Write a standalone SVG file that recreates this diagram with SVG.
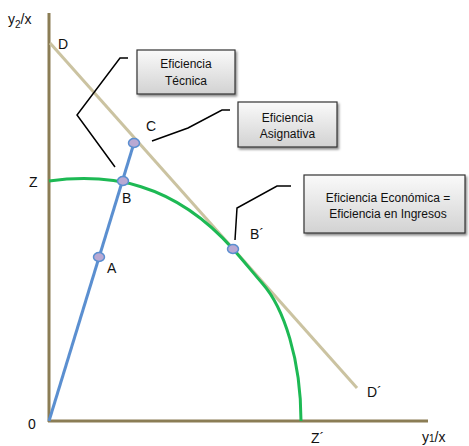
<svg xmlns="http://www.w3.org/2000/svg" width="469" height="446" viewBox="0 0 469 446">
<defs>
<linearGradient id="boxg" x1="0" y1="0" x2="0" y2="1">
<stop offset="0" stop-color="#fafafa"/>
<stop offset="1" stop-color="#d2d2d2"/>
</linearGradient>
<filter id="sh" x="-10%" y="-10%" width="130%" height="140%">
<feDropShadow dx="1.5" dy="2" stdDeviation="1.2" flood-color="#000" flood-opacity="0.45"/>
</filter>
</defs>
<style>
text{font-family:"Liberation Sans",Arial,sans-serif;fill:#111}
.lbl{font-size:14px}
.bt{font-size:12px;text-anchor:middle}
.box{fill:url(#boxg);stroke:#333;stroke-width:1.2;filter:url(#sh)}
.dot{fill:#b9a9d3;stroke:#5b8fd0;stroke-width:1.5}
.call{fill:none;stroke:#000;stroke-width:1.5}
</style>
<g id="axes">
<line x1="49" y1="13" x2="49" y2="422" stroke="#8b7d55" stroke-width="3"/>
<line x1="48" y1="421" x2="428" y2="421" stroke="#8b7d55" stroke-width="3"/>
</g>
<g id="connectors">
<line id="budget" x1="50" y1="43" x2="357" y2="388" stroke="#cbc3a1" stroke-width="3"/>
<path id="frontier" d="M49,181 C109,173 173,181.6 233,249 C243,260.2 252,271.5 262,283 C284,307.7 301,360 301,421" fill="none" stroke="#1db954" stroke-width="3"/>
<line id="ray" x1="49" y1="421" x2="134" y2="143" stroke="#5b8fd0" stroke-width="3"/>
<polyline class="call" points="128,58 120,58 77,115 115,167"/>
<polyline class="call" points="230,110 222,110 188,128 152,141"/>
<polyline class="call" points="291,186 277,186 237,208 235,240"/>
</g>
<g id="pointA"><ellipse class="dot" cx="99" cy="257" rx="5.5" ry="4.5"/><text class="lbl" x="107" y="273">A</text></g>
<g id="pointB"><ellipse class="dot" cx="123" cy="181" rx="5.5" ry="4.5"/><text class="lbl" x="122" y="203">B</text></g>
<g id="pointC"><ellipse class="dot" cx="134" cy="143" rx="5.5" ry="4.5"/><text class="lbl" x="146" y="131">C</text></g>
<g id="pointBp"><ellipse class="dot" cx="233" cy="249" rx="5.5" ry="4.5"/><text class="lbl" x="250" y="239">B´</text></g>
<g id="labels">
<text class="lbl" x="8" y="24">y<tspan font-size="10" dy="4">2</tspan><tspan dy="-4">/x</tspan></text>
<text class="lbl" x="58" y="49">D</text>
<text class="lbl" x="29" y="187">Z</text>
<text class="lbl" x="28" y="429">0</text>
<text class="lbl" x="311" y="443">Z´</text>
<text class="lbl" x="367" y="397">D´</text>
<text class="lbl" x="422" y="442">y<tspan font-size="10">1</tspan>/x</text>
</g>
<g id="box-tecnica">
<rect class="box" x="137" y="50" width="98" height="44"/>
<text class="bt" x="186" y="68">Eficiencia</text>
<text class="bt" x="186" y="85">Técnica</text>
</g>
<g id="box-asignativa">
<rect class="box" x="238" y="102" width="99" height="45"/>
<text class="bt" x="287.5" y="122">Eficiencia</text>
<text class="bt" x="287.5" y="138">Asignativa</text>
</g>
<g id="box-economica">
<rect class="box" x="304" y="175" width="161" height="58"/>
<text class="bt" x="388" y="202">Eficiencia Económica =</text>
<text class="bt" x="388" y="218">Eficiencia en Ingresos</text>
</g>
</svg>
